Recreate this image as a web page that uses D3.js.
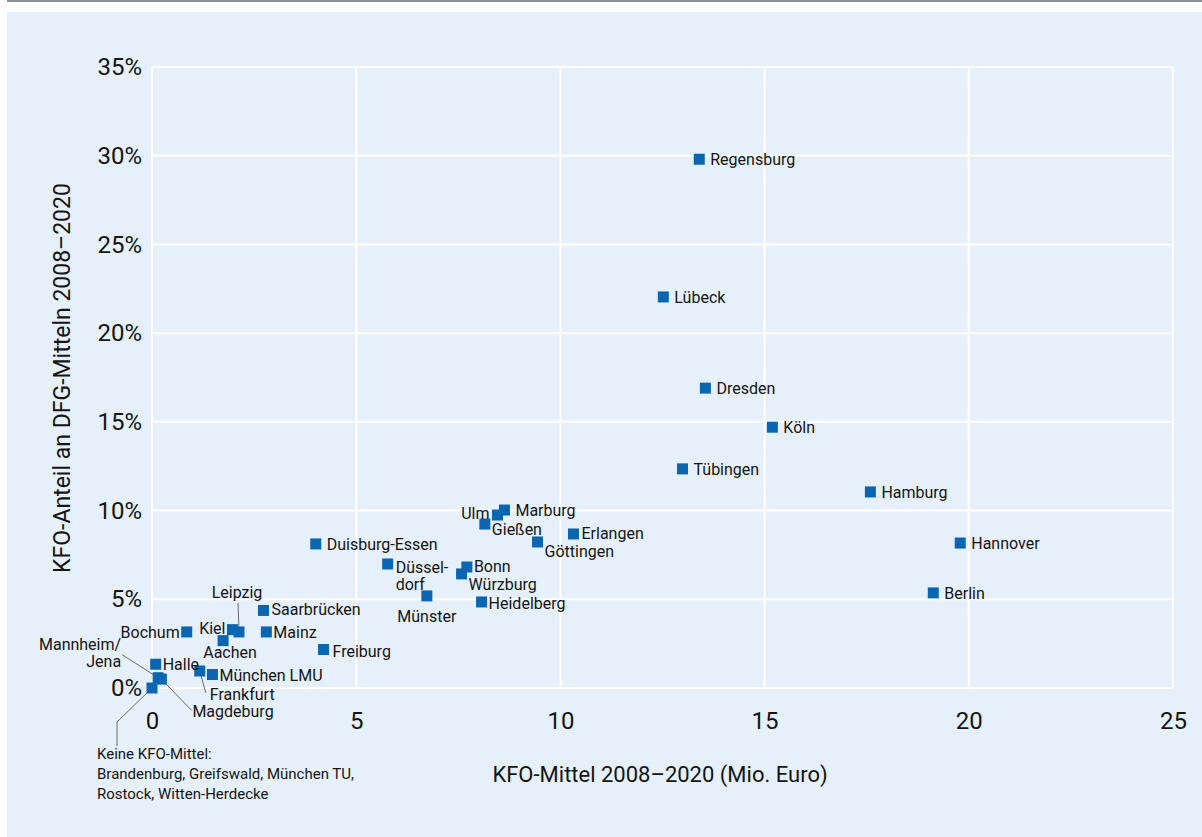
<!DOCTYPE html>
<html>
<head>
<meta charset="utf-8">
<script src="https://cdn.jsdelivr.net/npm/d3@7"></script>
<style>
  body { margin: 0; background: #fff; }
  svg text { font-family: Roboto, "Open Sans", sans-serif; fill: #141414; }
</style>
</head>
<body>
<div id="chart"></div>
<script>
// KFO-Mittel 2008-2020 (Mio. Euro) and share of DFG funding (%)
const standorte = ["Regensburg", "Lübeck", "Dresden", "Köln", "Tübingen", "Hamburg", "Hannover", "Berlin",
  "Marburg", "Ulm", "Gießen", "Erlangen", "Göttingen", "Duisburg-Essen", "Düsseldorf", "Bonn", "Würzburg",
  "Münster", "Heidelberg", "Saarbrücken", "Leipzig", "Kiel", "Mainz", "Bochum", "Aachen", "Freiburg",
  "Halle", "Frankfurt", "München LMU", "Mannheim/Jena", "Magdeburg", "Keine"];
const kfoMittel = [13.4, 12.52, 13.55, 15.19, 12.99, 17.59, 19.79, 19.13,
  8.63, 8.46, 8.15, 10.32, 9.44, 4.01, 5.77, 7.71, 7.58,
  6.73, 8.07, 2.73, 2.13, 1.97, 2.8, 0.85, 1.74, 4.2,
  0.09, 1.17, 1.48, 0.15, 0.23, 0.0];
const kfoAnteil = [29.8, 22.04, 16.9, 14.7, 12.35, 11.05, 8.17, 5.36,
  10.03, 9.75, 9.24, 8.68, 8.23, 8.12, 6.99, 6.82, 6.43,
  5.19, 4.85, 4.37, 3.16, 3.29, 3.16, 3.16, 2.67, 2.17,
  1.34, 0.96, 0.76, 0.58, 0.5, 0.0];
const xTicks = [0, 5, 10, 15, 20, 25];
const yTicks = [0, 5, 10, 15, 20, 25, 30, 35];
const keineText = ["Keine KFO-Mittel:", "Brandenburg, Greifswald, München TU,", "Rostock, Witten-Herdecke"];

// label placement relative to the marker: [dx, dy, anchor, lines, leader]
const place = {
  "Ulm": [-8, 4, "end"],
  "Gießen": [7, 11],
  "Göttingen": [7, 15],
  "Erlangen": [8, 5],
  "Düsseldorf": [8, 9, "start", ["Düssel-", "dorf"]],
  "Bonn": [7, 5],
  "Würzburg": [7, 16],
  "Münster": [0, 26, "middle"],
  "Heidelberg": [7, 7],
  "Saarbrücken": [8, 5],
  "Leipzig": [-2, -34, "middle", null, [[-1, -29], [0, -2]]],
  "Kiel": [-7, 4, "end"],
  "Bochum": [-7, 6, "end"],
  "Mainz": [7, 6],
  "Aachen": [7, 17, "middle"],
  "Freiburg": [9, 8],
  "Halle": [7, 6],
  "Frankfurt": [10, 29, "start", null, [[0, 0], [6, 22]]],
  "München LMU": [7, 6],
  "Magdeburg": [31, 38, "start", null, [[0, 0], [30, 31]]],
  "Mannheim/Jena": [-37, -28, "end", ["Mannheim/", "Jena"], [[-36, -23], [-3, -2]]],
  "Keine": [-55, 71, "start", null, [[0, 0], [-35, 34], [-35, 58]]]
};

const W = 1202, H = 837;
const svg = d3.select("#chart").append("svg").attr("width", W).attr("height", H);

svg.append("rect").attr("x", 7).attr("y", 12).attr("width", W - 7).attr("height", H - 12).attr("fill", "#e6f0fa");
svg.append("rect").attr("x", 7).attr("y", 0).attr("width", W - 7).attr("height", 2).attr("fill", "#8d9196");

const x = d3.scaleLinear().domain([0, 25]).range([152, 1173]);
const y = d3.scaleLinear().domain([0, 35]).range([688, 67]);

// grid
const grid = svg.append("g").attr("stroke", "#ffffff").attr("stroke-width", 2);
grid.selectAll("line.v").data(xTicks).join("line")
  .attr("x1", d => x(d)).attr("x2", d => x(d)).attr("y1", y(35)).attr("y2", y(0));
grid.selectAll("line.h").data(yTicks).join("line").attr("class", "h")
  .attr("x1", x(0)).attr("x2", x(25)).attr("y1", d => y(d)).attr("y2", d => y(d));

// axes (labels only)
const xAxis = svg.append("g").attr("transform", `translate(0,${y(0)})`)
  .call(d3.axisBottom(x).tickValues(xTicks).tickSize(0).tickPadding(24).tickFormat(d3.format("d")));
const yAxis = svg.append("g").attr("transform", `translate(${x(0)},0)`)
  .call(d3.axisLeft(y).tickValues(yTicks).tickSize(0).tickPadding(10).tickFormat(d => d + "%"));
[xAxis, yAxis].forEach(a => {
  a.select(".domain").remove();
  a.selectAll("text").style("font-size", "24px").style("font-family", null).attr("fill", null);
});

svg.append("text").attr("x", 660).attr("y", 782).attr("text-anchor", "middle")
  .style("font-size", "22px").text("KFO-Mittel 2008–2020 (Mio. Euro)");
svg.append("text").attr("transform", "translate(70,378) rotate(-90)").attr("text-anchor", "middle")
  .style("font-size", "23px").text("KFO-Anteil an DFG-Mitteln 2008–2020");

const pts = standorte.map((n, i) => ({ name: n, v: kfoMittel[i], p: kfoAnteil[i] }));

// leader lines
svg.append("g").selectAll("polyline").data(pts.filter(d => place[d.name] && place[d.name][4])).join("polyline")
  .attr("points", d => place[d.name][4].map(q => [x(d.v) + q[0], y(d.p) + q[1]].join(",")).join(" "))
  .attr("fill", "none").attr("stroke", "#6b6b6b").attr("stroke-width", 1);

// markers
const s = 11;
svg.append("g").selectAll("rect").data(pts).join("rect")
  .attr("x", d => x(d.v) - s / 2).attr("y", d => y(d.p) - s / 2)
  .attr("width", s).attr("height", s).attr("fill", "#0a66b1");

// labels
svg.append("g").selectAll("text").data(pts.filter(d => d.name !== "Keine")).join("text")
  .each(function (d) {
    const pl = place[d.name] || [11, 6, "start"];
    const lines = pl[3] || [d.name];
    const t = d3.select(this).attr("text-anchor", pl[2] || "start").style("font-size", "16px");
    lines.forEach((l, k) => t.append("tspan").attr("x", x(d.v) + pl[0]).attr("y", y(d.p) + pl[1] + k * 17).text(l));
  });

const kt = svg.append("text").style("font-size", "15px");
const kp = place["Keine"];
keineText.forEach((l, k) => kt.append("tspan").attr("x", x(0) + kp[0]).attr("y", y(0) + kp[1] + k * 20).text(l));
</script>
</body>
</html>
